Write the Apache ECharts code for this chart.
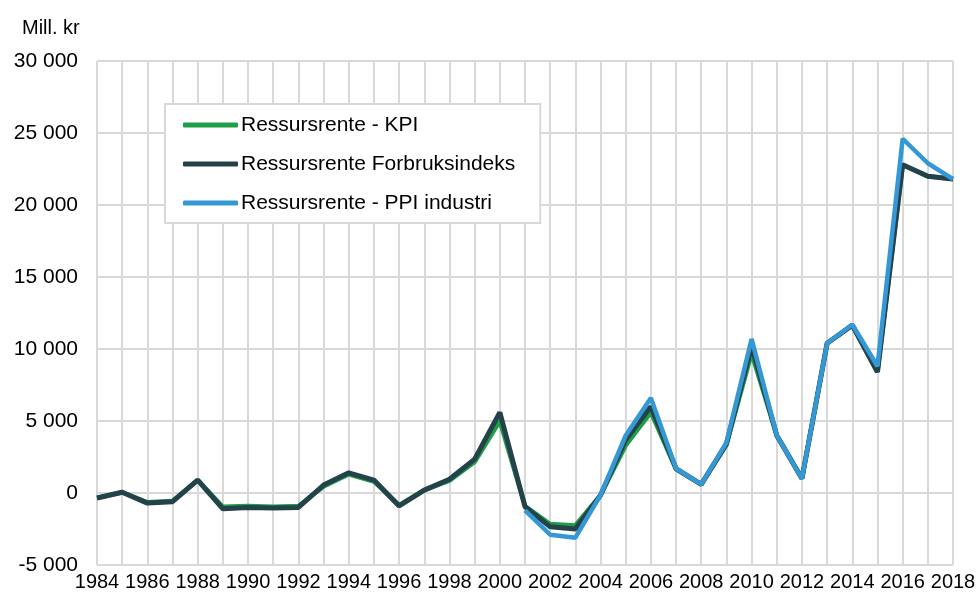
<!DOCTYPE html>
<html lang="no">
<head>
    <meta charset="UTF-8">
    <title>Ressursrente</title>
    <style>
        * {
            margin: 0;
            padding: 0;
        }

        html, body {
            height: 100%;
            width: 100%;
            background: #fff;
        }
    </style>
    <script src="https://cdn.jsdelivr.net/npm/echarts@6/dist/echarts.min.js"></script>
</head>
<body>

<div id="main" style="width: 979px;height: 592px;"></div>

<script>
    // år på x-aksen
    var years = [];
    for (var y = 1984; y <= 2018; y++) years.push(String(y));

    // Ressursrente - KPI
    var kpi = [-350, 50, -650, -550, 900, -950, -900, -950, -900, 450, 1300, 800, -850, 200, 850, 2150, 5000,
        -900, -2150, -2250, -150, 3300, 5600, 1650, 600, 3350, 9700, 4000, 1000, 10400, 11650, 8400, 22800, 22000, 21800];

    // Ressursrente Forbruksindeks
    var forbruk = [-350, 50, -700, -600, 900, -1100, -1000, -1050, -1000, 550, 1400, 900, -900, 200, 950, 2350, 5600,
        -950, -2350, -2500, -150, 3700, 6000, 1700, 600, 3400, 10200, 4000, 1000, 10400, 11650, 8400, 22800, 22000, 21800];

    // Ressursrente - PPI industri (fra 2001)
    var ppi = [null, null, null, null, null, null, null, null, null, null, null, null, null, null, null, null, null,
        -1200, -2900, -3100, -150, 4000, 6600, 1700, 600, 3500, 10700, 4000, 1000, 10400, 11700, 8800, 24600, 22900, 21800];

    var myChart = echarts.init(document.getElementById('main'));

    var fmt = function (v) {
        var s = String(Math.abs(v)).replace(/\B(?=(\d{3})+(?!\d))/g, ' ');
        return (v < 0 ? '-' : '') + s;
    };

    var option = {
        animation: false,
        textStyle: {fontFamily: 'Liberation Sans, Arial, sans-serif'},
        grid: {left: 97, right: 26, top: 61, bottom: 27},
        title: {
            text: 'Mill. kr',
            left: 17, top: 13,
            textStyle: {fontSize: 20, fontWeight: 'normal', color: '#000', fontFamily: 'Liberation Sans, Arial, sans-serif'}
        },
        legend: {
            orient: 'vertical',
            left: 165, top: 104,
            padding: [10, 25, 9, 18],
            itemGap: 17,
            itemWidth: 55,
            itemHeight: 5,
            icon: 'roundRect',
            backgroundColor: '#fff',
            borderColor: '#d9d9d9',
            borderWidth: 2,
            textStyle: {fontSize: 21, lineHeight: 22, color: '#000', padding: [0, 0, 0, -2]},
            data: ['Ressursrente - KPI', 'Ressursrente Forbruksindeks', 'Ressursrente - PPI industri']
        },
        xAxis: {
            type: 'category',
            boundaryGap: false,
            data: years,
            axisLine: {lineStyle: {color: '#d9d9d9', width: 2}},
            axisTick: {show: false},
            axisLabel: {interval: 1, fontSize: 20, color: '#000', margin: 7},
            splitLine: {show: true, interval: 0, lineStyle: {color: '#d9d9d9', width: 2}}
        },
        yAxis: {
            type: 'value',
            min: -5000,
            max: 30000,
            interval: 5000,
            axisLine: {show: false},
            axisTick: {show: false},
            axisLabel: {fontSize: 21, color: '#000', margin: 19, formatter: fmt},
            splitLine: {lineStyle: {color: '#d9d9d9', width: 2}}
        },
        series: [
            {
                name: 'Ressursrente - KPI',
                type: 'line',
                symbol: 'none',
                data: kpi,
                lineStyle: {color: '#1f9e48', width: 4.5},
                itemStyle: {color: '#1f9e48'}
            },
            {
                name: 'Ressursrente Forbruksindeks',
                type: 'line',
                symbol: 'none',
                data: forbruk,
                lineStyle: {color: '#24424a', width: 5},
                itemStyle: {color: '#24424a'}
            },
            {
                name: 'Ressursrente - PPI industri',
                type: 'line',
                symbol: 'none',
                data: ppi,
                lineStyle: {color: '#3598d6', width: 4.5},
                itemStyle: {color: '#3598d6'}
            }
        ]
    };
    myChart.setOption(option);
</script>

</body>
</html>
